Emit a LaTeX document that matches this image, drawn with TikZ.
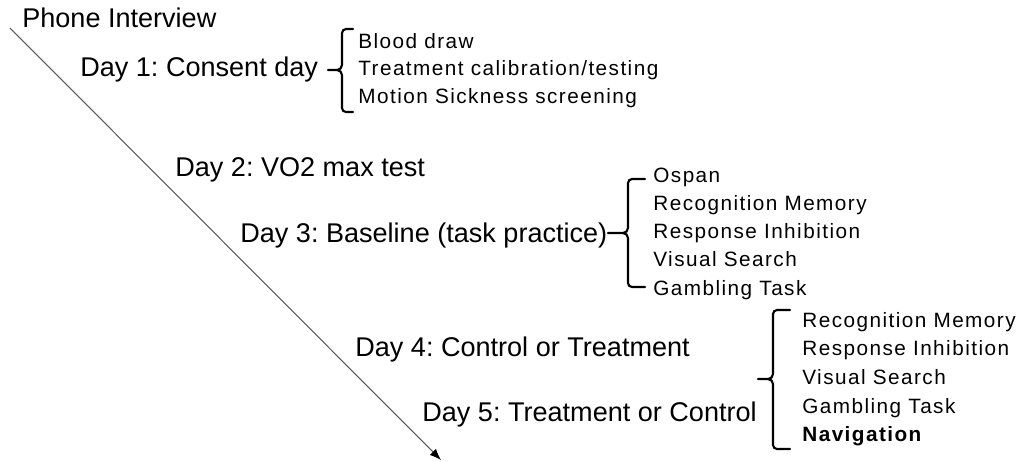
\documentclass[tikz,border=0pt]{standalone}
\usepackage{fontspec}
\setmainfont{Liberation Sans}
\newfontfamily\labelfont{Liberation Sans}
\newfontfamily\taskfont{Liberation Sans}[LetterSpace=7]
\usetikzlibrary{arrows.meta}
\frenchspacing

% bracket: arm x, vertical x, tip x, top y, middle y, bottom y
\newcommand{\taskbracket}[6]{%
    \draw[bracketline] (#1,#4) -- (#2+4,#4) to[out=180,in=90] (#2,#4+4) -- (#2,#5-5) to[out=-90,in=0] (#2-5,#5) -- (#3,#5);
    \draw[bracketline] (#1,#6) -- (#2+4,#6) to[out=180,in=-90] (#2,#6-4) -- (#2,#5+5) to[out=90,in=0] (#2-5,#5);
}

\begin{document}
\begin{tikzpicture}[x=0.02cm, y=-0.02cm,
    daylabel/.style={anchor=base west, inner sep=0pt, font=\labelfont\fontsize{15.4}{18}\selectfont},
    taskitem/.style={anchor=base west, inner sep=0pt, font=\taskfont\fontsize{11.8}{14}\selectfont},
    bracketline/.style={line width=1.2pt, line cap=round}]
    \useasboundingbox (0,0) rectangle (1024,461);
    % timeline
    \coordinate (tstart) at (10,28);
    \coordinate (tend) at (441,460);
    \draw[gray!70!black, line width=0.6pt, -{Latex[black,length=6.5pt,width=5pt]}] (tstart) -- (tend);
    \node[daylabel] (phone) at (22,27) {Phone Interview};
    \node[daylabel] (day1) at (80,76) {Day 1: Consent day};
    \node[daylabel] (day2) at (175,176) {Day 2: VO2 max test};
    \node[daylabel] (day3) at (240,242) {Day 3: Baseline (task practice)};
    \node[daylabel] (day4) at (355,356) {Day 4: Control or Treatment};
    \node[daylabel] (day5) at (422,421) {Day 5: Treatment or Control};
    % brackets
    \taskbracket{353}{342}{328}{29}{70}{112}
    \taskbracket{645}{628}{608}{179}{233}{287}
    \taskbracket{790}{773}{758}{310}{379}{449}
    % task lists
    \foreach \t [count=\i] in {Blood draw, Treatment calibration/testing, Motion Sickness screening} {
        \node[taskitem] (a\i) at (358,{48+27.5*(\i-1)}) {\t};
    }
    \foreach \t [count=\i] in {Ospan, Recognition Memory, Response Inhibition, Visual Search, Gambling Task} {
        \node[taskitem] (b\i) at (653,{182+28.3*(\i-1)}) {\t};
    }
    \foreach \t [count=\i] in {Recognition Memory, Response Inhibition, Visual Search, Gambling Task, {\bfseries Navigation}} {
        \node[taskitem] (c\i) at (802,{327+28.7*(\i-1)}) {\t};
    }
\end{tikzpicture}
\end{document}
